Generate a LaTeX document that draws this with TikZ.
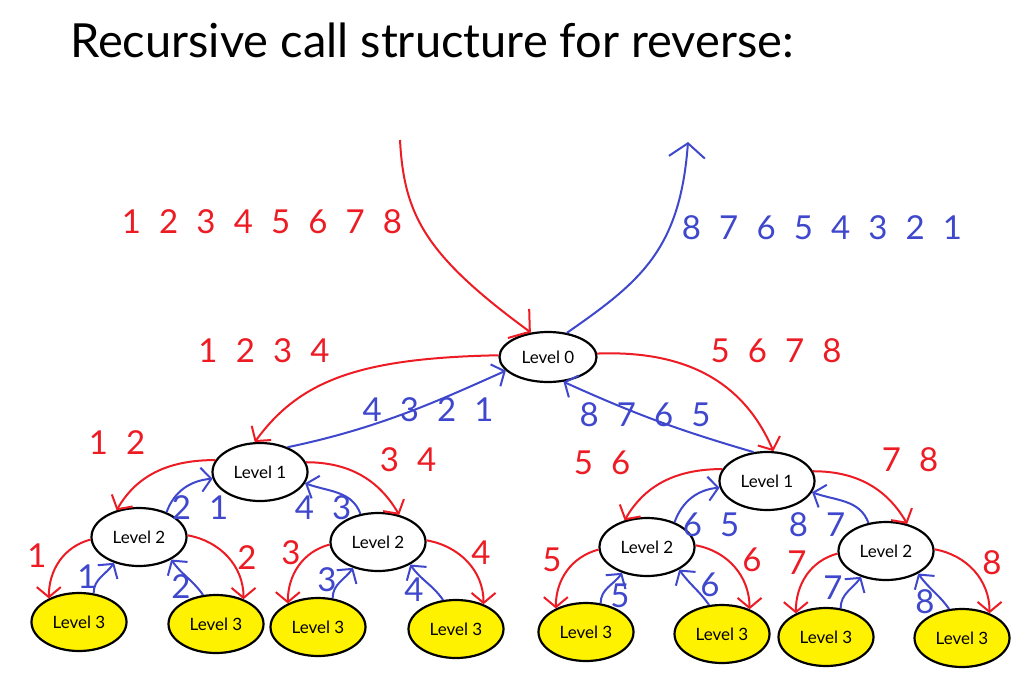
\documentclass[tikz,border=0pt]{standalone}
\usepackage{fontspec}
\setmainfont{Lato}
\usetikzlibrary{shapes.geometric,arrows.meta}
\definecolor{pred}{RGB}{237,28,36}
\definecolor{pblue}{RGB}{63,72,204}
\definecolor{pyellow}{RGB}{255,242,0}
\newcommand{\g}{\hspace{0.55em}}
% level 1 -> level 2
\newcommand{\midkids}[3]{%
  \draw[rarr] (#1.165) to[out=180,in=60] (#2.130);
  \draw[rarr] (#1.12) to[out=0,in=120] (#3.52);
  \draw[barr] (#2.42) to[out=70,in=185] (#1.188);
  \draw[barr] (#3.122) to[out=110,in=-20] (#1.-14);
}
% level 2 -> level 3
\newcommand{\leafkids}[3]{%
  \draw[rarr] (#1.183) to[out=195,in=90] (#2.142);
  \draw[rarr] (#1.2) to[out=-10,in=90] (#3.42);
  \draw[barr] (#2.63) to[out=90,in=235] (#1.226);
  \draw[barr] (#3.114) to[out=125,in=-55] (#1.-35);
}
\begin{document}
\begin{tikzpicture}[x=1pt,y=-1pt,
  lvl/.style={ellipse, draw, line width=2.2pt, minimum width=95pt, minimum height=58pt, inner sep=0pt, font=\fontsize{17}{19}\selectfont},
  leaf/.style={lvl, fill=pyellow},
  rarr/.style={pred, line width=2pt, -{Straight Barb[length=10pt,width=24pt]}},
  barr/.style={pblue, line width=2pt, -{Straight Barb[length=10pt,width=24pt]}},
  bigarr/.style={line width=2pt, -{Straight Barb[length=14pt,width=36pt]}},
  rlab/.style={text=pred, font=\fontsize{33}{35}\selectfont, inner sep=0pt},
  blab/.style={text=pblue, font=\fontsize{33}{35}\selectfont, inner sep=0pt},
  title/.style={font=\fontsize{47}{50}\selectfont, inner sep=0pt, anchor=west}
]
\useasboundingbox[fill=white] (0,0) rectangle (1024,677);

\node[title] (t) at (70,40) {Recursive call structure for reverse:};

% nodes
\node[lvl, minimum width=97pt, minimum height=50pt] (L0) at (548,357) {Level 0};
\node[lvl] (A1) at (260,472) {Level 1};
\node[lvl] (A2) at (139,537) {Level 2};
\node[lvl] (B2) at (378,542) {Level 2};
\node[leaf] (a) at (79,622) {Level 3};
\node[leaf] (b) at (216,624) {Level 3};
\node[leaf] (c) at (318,627) {Level 3};
\node[leaf] (d) at (456,629) {Level 3};
\node[lvl] (C1) at (767,481) {Level 1};
\node[lvl] (C2) at (647,547) {Level 2};
\node[lvl] (D2) at (886,551) {Level 2};
\node[leaf] (e) at (586,632) {Level 3};
\node[leaf] (f) at (722,634) {Level 3};
\node[leaf] (g) at (826,637) {Level 3};
\node[leaf] (h) at (962,638) {Level 3};

% top in/out
\coordinate (in) at (400,140);
\coordinate (out) at (688,142);
\draw[pred, bigarr] (in) .. controls (404,215) and (425,255) .. (L0.125);
\draw[pblue, bigarr] (L0.52) .. controls (640,282) and (680,250) .. (out);

% level 0 to level 1
\draw[rarr] (L0.178) .. controls (360,358) and (300,380) .. (A1.100);
\draw[barr] (A1.42) .. controls (380,428) and (440,400) .. (L0.198);
\draw[rarr] (L0.4) .. controls (690,350) and (745,385) .. (C1.78);
\draw[barr] (C1.115) to[bend left=4] (L0.-58);

% subtrees
\midkids{A1}{A2}{B2}
\midkids{C1}{C2}{D2}
\leafkids{A2}{a}{b}
\leafkids{B2}{c}{d}
\leafkids{C2}{e}{f}
\leafkids{D2}{g}{h}

% labels
\node[rlab] (s0) at (262,222) {1\g 2\g 3\g 4\g 5\g 6\g 7\g 8};
\node[blab] (r0) at (822,228) {8\g 7\g 6\g 5\g 4\g 3\g 2\g 1};
\node[rlab] (s1) at (264,351) {1\g 2\g 3\g 4};
\node[rlab] (s2) at (776,351) {5\g 6\g 7\g 8};
\node[blab] (r1) at (428,410) {4\g 3\g 2\g 1};
\node[blab] (r2) at (645,415) {8\g 7\g 6\g 5};
\node[rlab] (s3) at (117,443) {1\g 2};
\node[rlab] (s4) at (408,460) {3\g 4};
\node[rlab] (s5) at (602,463) {5\g 6};
\node[rlab] (s6) at (910,460) {7\g 8};
\node[blab] (r3) at (200,508) {2\g 1};
\node[blab] (r4) at (323,508) {4\g 3};
\node[blab] (r5) at (711,525) {6\g 5};
\node[blab] (r6) at (817,525) {8\g 7};

\node[rlab] (x1) at (37,556) {1};
\node[blab] (y1) at (87,577) {1};
\node[blab] (y2) at (181,587) {2};
\node[rlab] (x2) at (247,558) {2};
\node[rlab] (x3) at (291,553) {3};
\node[blab] (y3) at (327,580) {3};
\node[blab] (y4) at (414,590) {4};
\node[rlab] (x4) at (481,553) {4};
\node[rlab] (x5) at (552,560) {5};
\node[blab] (y5) at (620,596) {5};
\node[blab] (y6) at (710,585) {6};
\node[rlab] (x6) at (752,560) {6};
\node[rlab] (x7) at (797,563) {7};
\node[blab] (y7) at (833,588) {7};
\node[blab] (y8) at (925,602) {8};
\node[rlab] (x8) at (992,563) {8};
\end{tikzpicture}
\end{document}
